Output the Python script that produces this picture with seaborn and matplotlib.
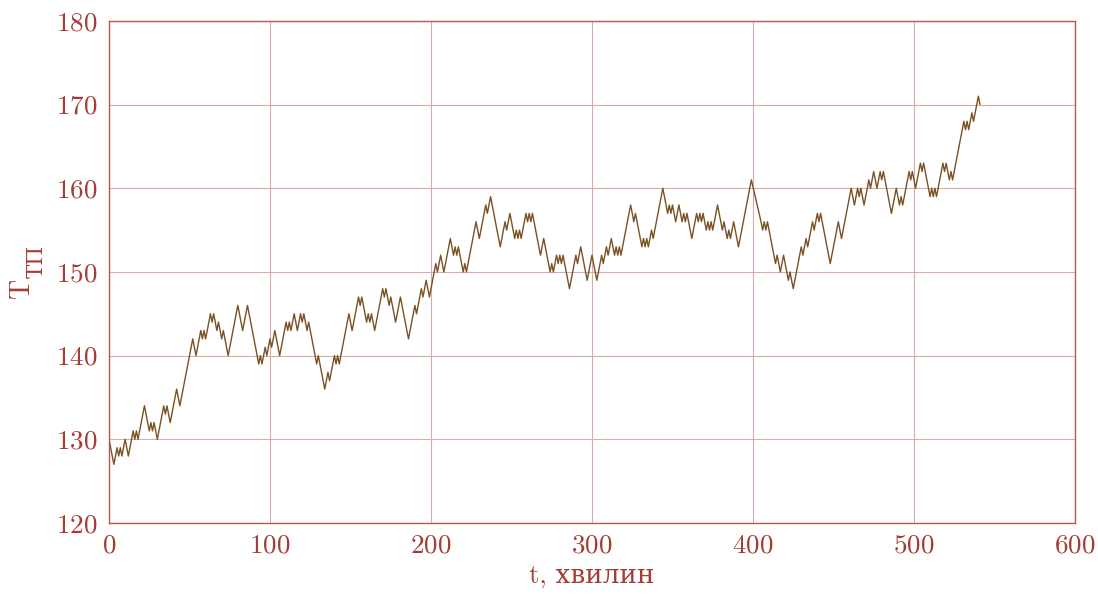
import numpy as np
import pandas as pd
import matplotlib
matplotlib.use('Agg')
import matplotlib.pyplot as plt
import seaborn as sns

# turning points of the temperature trace (minute, value)
t_turn = [0, 3, 5, 6, 7, 8, 10, 12, 15, 16, 17, 18, 22, 25, 26, 27, 28, 30,
          34, 35, 36, 38, 42, 44, 52, 54, 57, 58, 59, 60, 63, 64, 65, 67, 68,
          70, 71, 74, 80, 83, 86, 93, 94, 95, 97, 98, 100, 101, 103, 106, 110,
          111, 112, 113, 115, 117, 119, 120, 121, 123, 124, 129, 130, 134, 136,
          137, 140, 141, 142, 143, 149, 151, 155, 156, 157, 160, 161, 162, 163,
          165, 170, 171, 172, 174, 175, 178, 181, 186, 190, 191, 194, 195, 197,
          199, 202, 203, 204, 206, 208, 212, 214, 215, 216, 217, 220, 221, 222,
          228, 230, 234, 235, 237, 243, 246, 247, 249, 252, 253, 254, 255, 256,
          259, 260, 261, 262, 263, 268, 270, 274, 275, 276, 278, 279, 280, 281,
          282, 286, 290, 291, 293, 297, 300, 303, 306, 307, 309, 310, 312, 314,
          315, 316, 317, 318, 324, 326, 327, 331, 332, 333, 334, 335, 337, 338,
          344, 347, 348, 349, 350, 352, 354, 356, 357, 358, 359, 362, 365, 366,
          367, 368, 369, 371, 372, 373, 374, 375, 378, 381, 382, 384, 385, 386,
          388, 391, 399, 405, 406, 407, 408, 409, 414, 415, 417, 419, 422, 423,
          425, 430, 431, 433, 434, 437, 438, 440, 441, 442, 448, 453, 455, 461,
          463, 465, 466, 467, 469, 472, 473, 475, 477, 479, 480, 481, 486, 489,
          491, 492, 493, 497, 498, 499, 501, 504, 505, 506, 508, 510, 511, 512,
          513, 514, 518, 519, 520, 522, 523, 524, 531, 532, 533, 534, 536, 537,
          538, 540, 541]
temp_turn = [130, 127, 129, 128, 129, 128, 130, 128, 131, 130, 131, 130, 134,
             131, 132, 131, 132, 130, 134, 133, 134, 132, 136, 134, 142, 140,
             143, 142, 143, 142, 145, 144, 145, 143, 144, 142, 143, 140, 146,
             143, 146, 139, 140, 139, 141, 140, 142, 141, 143, 140, 144, 143,
             144, 143, 145, 143, 145, 144, 145, 143, 144, 139, 140, 136, 138,
             137, 140, 139, 140, 139, 145, 143, 147, 146, 147, 144, 145, 144,
             145, 143, 148, 147, 148, 146, 147, 144, 147, 142, 146, 145, 148,
             147, 149, 147, 150, 151, 150, 152, 150, 154, 152, 153, 152, 153,
             150, 151, 150, 156, 154, 158, 157, 159, 153, 156, 155, 157, 154,
             155, 154, 155, 154, 157, 156, 157, 156, 157, 152, 154, 150, 151,
             150, 152, 151, 152, 151, 152, 148, 152, 151, 153, 149, 152, 149,
             152, 151, 153, 152, 154, 152, 153, 152, 153, 152, 158, 156, 157,
             153, 154, 153, 154, 153, 155, 154, 160, 157, 158, 157, 158, 156,
             158, 156, 157, 156, 157, 154, 157, 156, 157, 156, 157, 155, 156,
             155, 156, 155, 158, 155, 156, 154, 155, 154, 156, 153, 161, 156,
             155, 156, 155, 156, 151, 152, 150, 152, 149, 150, 148, 153, 152,
             154, 153, 156, 155, 157, 156, 157, 151, 156, 154, 160, 158, 160,
             159, 160, 158, 161, 160, 162, 160, 162, 161, 162, 157, 160, 158,
             159, 158, 162, 161, 162, 160, 163, 162, 163, 161, 159, 160, 159,
             160, 159, 163, 162, 163, 161, 162, 161, 168, 167, 168, 167, 169,
             168, 169, 171, 170]

x_ticks = [0, 100, 200, 300, 400, 500, 600]
y_ticks = [120, 130, 140, 150, 160, 170, 180]

text_col = '#a33d35'
spine_col = '#b35a52'
grid_col = '#d9ada7'
line_col = '#7a5124'

sns.set_style('white')
plt.rcParams['font.family'] = ['cmr10', 'DejaVu Serif']
plt.rcParams['axes.formatter.use_mathtext'] = True

df = pd.DataFrame({'t': t_turn, 'T': temp_turn})

fig, ax = plt.subplots(figsize=(10.98, 5.97), dpi=100)
fig.subplots_adjust(left=0.0993, right=0.979, top=0.965, bottom=0.124)

sns.lineplot(data=df, x='t', y='T', ax=ax, color=line_col, linewidth=1.0,
             estimator=None, sort=False)

ax.set_xlim(0, 600)
ax.set_ylim(120, 180)
ax.set_xticks(x_ticks)
ax.set_yticks(y_ticks)
ax.grid(True, color=grid_col, linewidth=0.8)
ax.tick_params(direction='in', length=5, width=0.8, colors=spine_col,
               labelcolor=text_col, labelsize=19.5, pad=8)
for s in ax.spines.values():
    s.set_color(spine_col)
    s.set_linewidth(1.0)

ax.set_xlabel('t, хвилин', fontsize=19, color=text_col, labelpad=5)
ax.set_ylabel('')
# y label: "T" with subscript "ТП"
fig.text(0.020, 0.517, 'T', rotation=90, fontsize=20, color=text_col,
         ha='center', va='center', family=['cmr10', 'DejaVu Serif'])
fig.text(0.0335, 0.562, 'ТП', rotation=90, fontsize=15.5, color=text_col,
         ha='center', va='center', family='DejaVu Serif')

fig.savefig('out.png', dpi=100)
